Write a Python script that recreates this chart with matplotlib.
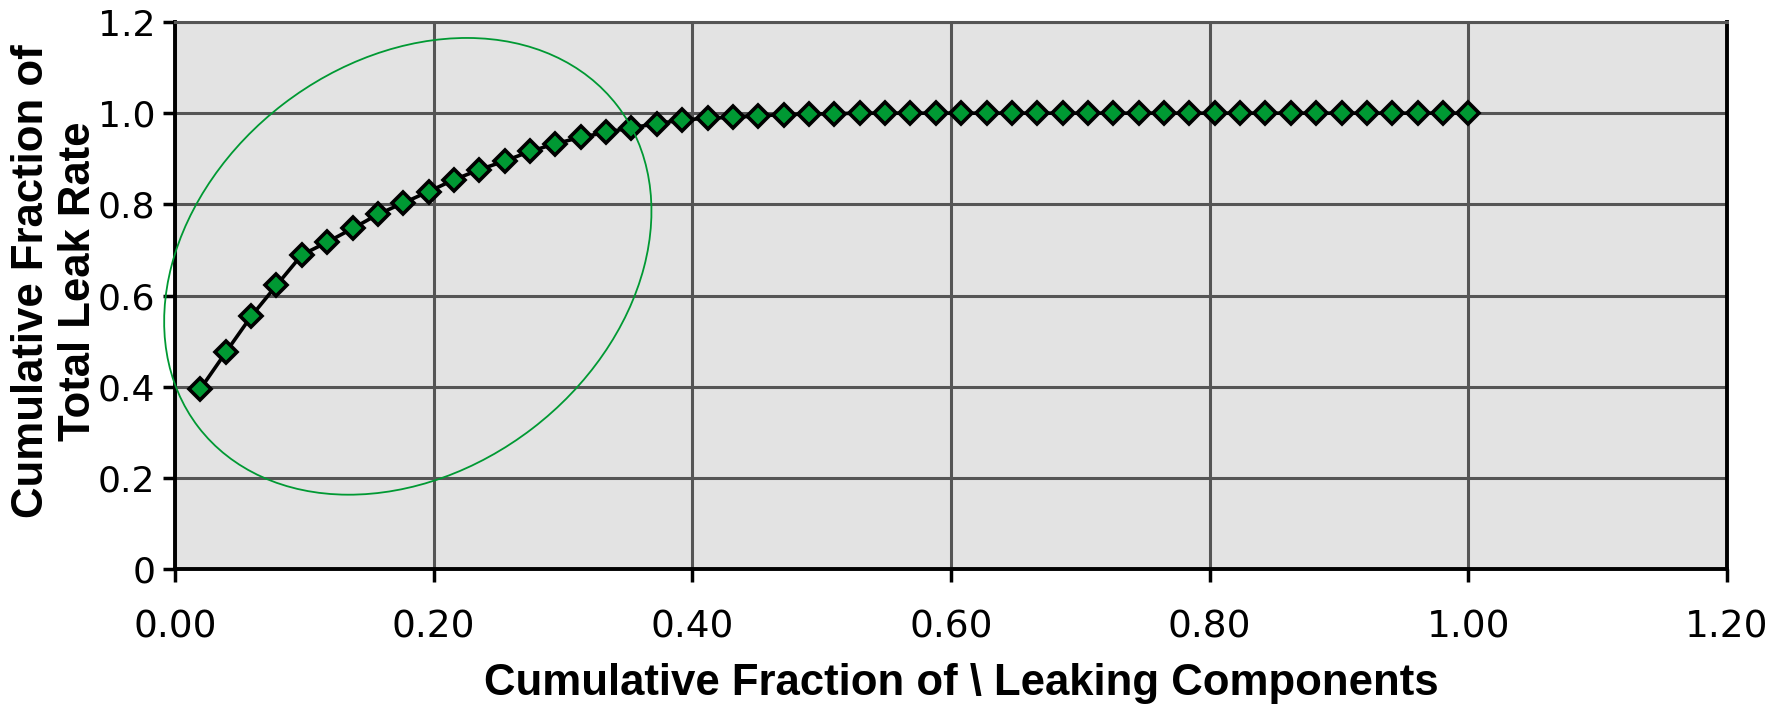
import matplotlib
matplotlib.use("Agg")
import matplotlib.pyplot as plt
from matplotlib.patches import Ellipse
from matplotlib.transforms import IdentityTransform

# cumulative fraction of leaking components (51 components)
frac_components = [
    0.0196, 0.0392, 0.0588, 0.0784, 0.0980, 0.1176, 0.1373, 0.1569, 0.1765, 0.1961,
    0.2157, 0.2353, 0.2549, 0.2745, 0.2941, 0.3137, 0.3333, 0.3529, 0.3725, 0.3922,
    0.4118, 0.4314, 0.4510, 0.4706, 0.4902, 0.5098, 0.5294, 0.5490, 0.5686, 0.5882,
    0.6078, 0.6275, 0.6471, 0.6667, 0.6863, 0.7059, 0.7255, 0.7451, 0.7647, 0.7843,
    0.8039, 0.8235, 0.8431, 0.8627, 0.8824, 0.9020, 0.9216, 0.9412, 0.9608, 0.9804,
    1.0000,
]
# cumulative fraction of total leak rate
frac_leak_rate = [
    0.395, 0.475, 0.554, 0.622, 0.689, 0.717, 0.747, 0.778, 0.803, 0.828,
    0.854, 0.876, 0.895, 0.916, 0.933, 0.947, 0.958, 0.968, 0.977, 0.985,
    0.989, 0.991, 0.994, 0.997, 0.998, 0.999, 1.000, 1.000, 1.000, 1.000,
    1.000, 1.000, 1.000, 1.000, 1.000, 1.000, 1.000, 1.000, 1.000, 1.000,
    1.000, 1.000, 1.000, 1.000, 1.000, 1.000, 1.000, 1.000, 1.000, 1.000,
    1.000,
]
x_ticks = [0.0, 0.2, 0.4, 0.6, 0.8, 1.0, 1.2]
x_tick_labels = ["0.00", "0.20", "0.40", "0.60", "0.80", "1.00", "1.20"]
y_ticks = [0.0, 0.2, 0.4, 0.6, 0.8, 1.0, 1.2]
y_tick_labels = ["0", "0.2", "0.4", "0.6", "0.8", "1.0", "1.2"]

W, H = 1792, 707
fig = plt.figure(figsize=(W / 100, H / 100), dpi=100)
left, right, top, bottom = 175, 1727, 22, 569
ax = fig.add_axes([left / W, 1 - bottom / H, (right - left) / W, (bottom - top) / H])
ax.set_facecolor("#e3e3e3")

ax.plot(frac_components, frac_leak_rate, color="black", lw=2.6, marker="D",
        markersize=11, markerfacecolor="#009933", markeredgecolor="black",
        markeredgewidth=2.6, zorder=4, clip_on=False)

ax.set_xlim(0, 1.2)
ax.set_ylim(0, 1.2)
ax.set_xticks(x_ticks)
ax.set_xticklabels(x_tick_labels, fontsize=27, family="DejaVu Sans")
ax.set_yticks(y_ticks)
ax.set_yticklabels(y_tick_labels, fontsize=26, family="DejaVu Sans")
ax.tick_params(axis="x", direction="out", length=9, width=2.5, pad=20)
ax.tick_params(axis="y", direction="out", length=9, width=2.5, pad=5)

ax.grid(True, color="#555555", lw=2.2, zorder=1)
ax.set_axisbelow(True)
for side in ("left", "bottom", "right"):
    ax.spines[side].set_color("black")
    ax.spines[side].set_linewidth(2.8)
ax.spines["top"].set_color("#555555")
ax.spines["top"].set_linewidth(2.2)

fig.text(961 / W, 1 - 684 / H,
         "Cumulative Fraction of \\ Leaking Components", ha="center", va="center",
         fontsize=31.5, fontweight="bold", family="Liberation Sans")
fig.text(55 / W, 1 - 281 / H, "Cumulative Fraction of\nTotal Leak Rate", rotation=90,
         ha="center", va="center", fontsize=31.5, fontweight="bold",
         family="Liberation Sans", linespacing=1.17)

# highlight ellipse around the steep part of the curve
cx, cy = ax.transData.transform((0.18, 0.664))
ring = Ellipse((cx, cy), 528, 409, angle=37.5, transform=IdentityTransform(),
               fill=False, edgecolor="#009933", lw=1.3, zorder=3)
fig.add_artist(ring)

fig.savefig("out.png", dpi=100)
